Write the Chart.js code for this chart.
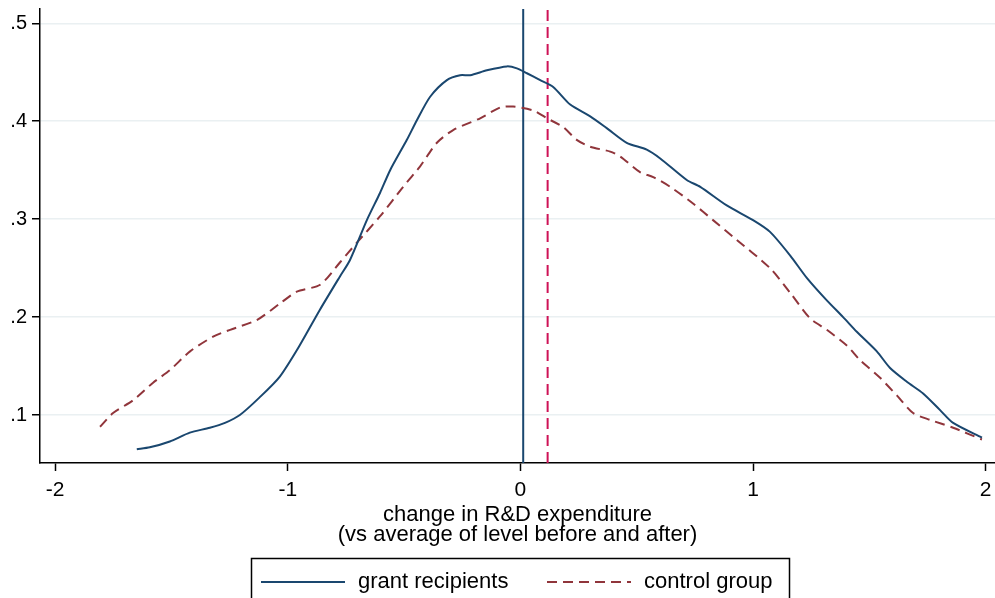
<!DOCTYPE html>
<html>
<head>
<meta charset="utf-8">
<script src="https://cdn.jsdelivr.net/npm/chart.js@4"></script>
<style>
  html, body { margin: 0; padding: 0; background: #fff; }
  #wrap { width: 995px; height: 598px; position: relative; }
</style>
</head>
<body>
<div id="wrap"><canvas id="chart"></canvas></div>
<script>
// ========================
// DATA
// ========================
const grantX = [-1.649, -1.593, -1.507, -1.421, -1.335, -1.270, -1.206, -1.121, -1.035, -0.949,
  -0.863, -0.777, -0.733, -0.660, -0.603, -0.560, -0.488, -0.445, -0.388, -0.316,
  -0.259, -0.216, -0.144, -0.058, -0.015, 0.028, 0.085, 0.141, 0.214, 0.300,
  0.371, 0.457, 0.543, 0.601, 0.715, 0.773, 0.887, 1.000, 1.073, 1.159,
  1.231, 1.317, 1.387, 1.446, 1.532, 1.589, 1.661, 1.731, 1.804, 1.860, 1.984];
const grantY = [0.065, 0.067, 0.073, 0.082, 0.087, 0.092, 0.100, 0.118, 0.139, 0.171,
  0.207, 0.241, 0.258, 0.299, 0.327, 0.350, 0.381, 0.401, 0.425, 0.442,
  0.447, 0.447, 0.452, 0.456, 0.454, 0.449, 0.442, 0.435, 0.417, 0.405,
  0.393, 0.378, 0.371, 0.362, 0.340, 0.333, 0.314, 0.299, 0.287, 0.263,
  0.240, 0.217, 0.200, 0.185, 0.165, 0.148, 0.134, 0.122, 0.105, 0.092, 0.077];

const controlX = [-1.807, -1.751, -1.665, -1.579, -1.506, -1.420, -1.321, -1.248, -1.133, -1.033,
  -0.961, -0.861, -0.775, -0.703, -0.603, -0.504, -0.431, -0.359, -0.289, -0.173,
  -0.087, -0.031, 0.055, 0.114, 0.184, 0.242, 0.300, 0.386, 0.429, 0.514,
  0.571, 0.644, 0.742, 0.828, 0.914, 1.073, 1.159, 1.244, 1.317, 1.403,
  1.460, 1.546, 1.618, 1.688, 1.761, 1.860, 1.984];
const controlY = [0.088, 0.102, 0.115, 0.133, 0.146, 0.165, 0.180, 0.187, 0.197, 0.214,
  0.226, 0.233, 0.256, 0.276, 0.303, 0.333, 0.354, 0.378, 0.391, 0.403,
  0.414, 0.415, 0.411, 0.403, 0.394, 0.381, 0.374, 0.369, 0.364, 0.348,
  0.343, 0.333, 0.316, 0.299, 0.282, 0.250, 0.225, 0.199, 0.187, 0.171,
  0.156, 0.138, 0.120, 0.102, 0.095, 0.087, 0.075];

// means drawn as vertical lines
const grantMean = 0.012;
const controlMean = 0.117;

const xTicks = [-2, -1, 0, 1, 2];
const yTicks = [0.1, 0.2, 0.3, 0.4, 0.5];
const seriesLabels = ['grant recipients', 'control group'];
const xTitle = ['change in R&D expenditure', '(vs average of level before and after)'];

const X_MIN = -2.065, X_MAX = 2.04;
const Y_MIN = 0.051, Y_MAX = 0.5146;

const NAVY = '#1a476f';
const MAROON = '#90353b';
const CRANBERRY = '#ce1256';
const FONT = 'Arial, "Liberation Sans", Helvetica, sans-serif';

const toPoints = (xs, ys) => xs.map((x, i) => ({ x, y: ys[i] }));

// ========================
// LEGEND (boxed, Stata style)
// ========================
const boxLegend = {
  id: 'boxLegend',
  afterDraw(chart) {
    const ctx = chart.ctx;
    const ds = chart.data.datasets;
    const y = 582;
    ctx.save();
    ctx.strokeStyle = '#000';
    ctx.lineWidth = 1.5;
    ctx.strokeRect(251.5, 558.5, 538, 60);

    const items = [
      { x0: 261, x1: 345, tx: 358, d: ds[0] },
      { x0: 547, x1: 631, tx: 644, d: ds[1] }
    ];
    items.forEach(it => {
      ctx.beginPath();
      ctx.strokeStyle = it.d.borderColor;
      ctx.lineWidth = it.d.borderWidth;
      ctx.setLineDash(it.d.borderDash || []);
      ctx.moveTo(it.x0, y);
      ctx.lineTo(it.x1, y);
      ctx.stroke();
      ctx.setLineDash([]);
      ctx.fillStyle = '#000';
      ctx.font = '22px ' + FONT;
      ctx.textBaseline = 'middle';
      ctx.textAlign = 'left';
      ctx.fillText(it.d.label, it.tx, y);
    });
    ctx.restore();
  }
};

// ========================
// CHART
// ========================
new Chart(document.getElementById('chart'), {
  type: 'line',
  data: {
    datasets: [
      {
        label: seriesLabels[0],
        data: toPoints(grantX, grantY),
        borderColor: NAVY,
        borderWidth: 2,
        pointRadius: 0,
        tension: 0.25,
        fill: false
      },
      {
        label: seriesLabels[1],
        data: toPoints(controlX, controlY),
        borderColor: MAROON,
        borderWidth: 2,
        borderDash: [10, 6],
        pointRadius: 0,
        tension: 0.25,
        fill: false
      },
      {
        label: 'grant mean',
        data: [{ x: grantMean, y: Y_MIN }, { x: grantMean, y: Y_MAX }],
        borderColor: NAVY,
        borderWidth: 2,
        pointRadius: 0
      },
      {
        label: 'control mean',
        data: [{ x: controlMean, y: Y_MIN }, { x: controlMean, y: Y_MAX }],
        borderColor: CRANBERRY,
        borderWidth: 2,
        borderDash: [11, 6],
        pointRadius: 0
      }
    ]
  },
  options: {
    responsive: true,
    maintainAspectRatio: false,
    animation: false,
    layout: { padding: { top: 9, right: 0, left: 0, bottom: 0 } },
    plugins: {
      legend: { display: false },
      tooltip: { enabled: false }
    },
    scales: {
      x: {
        type: 'linear',
        min: X_MIN,
        max: X_MAX,
        afterBuildTicks: s => { s.ticks = xTicks.map(v => ({ value: v })); },
        afterFit: s => {
          s.height = 135;
          s.paddingLeft = 0;
          s.paddingRight = 0;
        },
        grid: { drawOnChartArea: false, tickLength: 8, tickColor: '#000', tickWidth: 1.5 },
        border: { color: '#000', width: 1.5 },
        ticks: {
          padding: 7,
          color: '#000',
          font: { family: FONT, size: 21 },
          maxRotation: 0,
          callback: v => String(v)
        },
        title: {
          display: true,
          text: xTitle,
          color: '#000',
          font: { family: FONT, size: 22, lineHeight: '20px' },
          padding: { top: 0, bottom: 53 }
        }
      },
      y: {
        min: Y_MIN,
        max: Y_MAX,
        afterBuildTicks: s => { s.ticks = yTicks.map(v => ({ value: v })); },
        afterFit: s => {
          s.width = 40;
          s.paddingTop = 0;
          s.paddingBottom = 0;
        },
        grid: { color: '#eaf0f2', lineWidth: 1.5, tickLength: 8, tickColor: '#000', tickWidth: 1.5 },
        border: { color: '#000', width: 1.5 },
        ticks: {
          padding: 5,
          color: '#000',
          font: { family: FONT, size: 20 },
          callback: v => String(+v.toFixed(1)).replace('0.', '.')
        }
      }
    }
  },
  plugins: [boxLegend]
});
</script>
</body>
</html>
